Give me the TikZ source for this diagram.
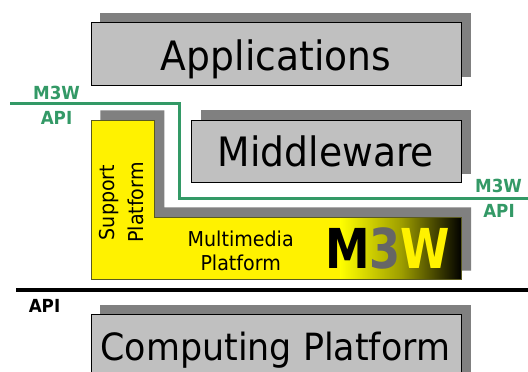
\documentclass[tikz,border=0pt]{standalone}
\usepackage{fontspec}
\setmainfont{DejaVu Sans}[FakeStretch=0.93]
\definecolor{boxgray}{HTML}{C0C0C0}
\definecolor{shadowgray}{HTML}{808080}
\definecolor{apigreen}{HTML}{339966}
\definecolor{m3gray}{HTML}{666666}
\definecolor{lborder}{HTML}{5A5A20}
\begin{document}
\begin{tikzpicture}[x=1pt,y=-1pt,
  boxfill/.style={fill=boxgray, draw=black, line width=0.8pt},
  shadowfill/.style={fill=shadowgray},
  bigtext/.style={anchor=base, inner sep=0pt, font=\fontsize{40.5}{48}\selectfont},
  midtext/.style={anchor=base, inner sep=0pt, font=\fontsize{20.5}{24}\selectfont},
  apilabel/.style={anchor=base, inner sep=0pt, font=\fontsize{18}{21}\selectfont\bfseries},
  apiline/.style={draw=apigreen, line width=3pt}]
\useasboundingbox (0,0) rectangle (528,372);
\clip (0,0) rectangle (528,372);
% Applications
\fill[shadowfill] (100.3,13.3) rectangle (471,76.7);
\draw[boxfill] (91,22.7) rectangle (461.7,85.3);
\node[bigtext] (apps) at (276,70) {Applications};
% Middleware
\fill[shadowfill] (201,110.3) rectangle (471,173.7);
\draw[boxfill] (191.7,120.7) rectangle (461.7,182.3);
\node[bigtext] (mw) at (326,166.7) {Middleware};
% L-shaped platform
\fill[shadowfill] (100.3,110.3) -- (164.3,110.3) -- (164.3,207.3) -- (471,207.3) -- (471,270.7) -- (100.3,270.7) -- cycle;
\fill[yellow] (91,120.3) -- (154.3,120.3) -- (154.3,217.3) -- (461.7,217.3) -- (461.7,279.3) -- (91,279.3) -- cycle;
\shade[left color=yellow, right color=black, middle color=yellow!62!black] (340,217.3) rectangle (461.7,279.3);
\draw[lborder, line width=0.8pt] (91,120.3) -- (154.3,120.3) -- (154.3,217.3) -- (461.7,217.3) -- (461.7,279.3) -- (91,279.3) -- cycle;
\node[midtext, rotate=90] (sup1) at (114.3,202.5) {Support};
\node[midtext, rotate=90] (sup2) at (143.3,202.5) {Platform};
\node[midtext] (mm1) at (240.7,246) {Multimedia};
\node[midtext] (mm2) at (240.7,270.7) {Platform};
\node[anchor=base west, inner sep=0pt, font=\fontsize{55}{60}\selectfont\bfseries] (m3w) at (325,268.3)
  {\scalebox{0.875}[1]{\textcolor{black}{M}\textcolor{m3gray}{3}\textcolor{yellow}{W}}};
% Computing platform
\fill[shadowfill] (100.3,305) rectangle (471,380);
\draw[boxfill] (91,314.3) rectangle (461.7,385);
\node[anchor=base, inner sep=0pt, font=\fontsize{37.5}{44}\selectfont] (cp) at (275.3,360) {Computing Platform};
% Black API line
\coordinate (bl1) at (16,290);
\coordinate (bl2) at (528,290);
\draw[line width=3.3pt] (bl1) -- (bl2);
\node[apilabel] (api0) at (44.5,312) {API};
% Green API line
\coordinate (g1) at (10,103.7);
\coordinate (g2) at (179,103.7);
\coordinate (g3) at (179,198.7);
\coordinate (g4) at (528,198.7);
\draw[apiline] (g1) -- (g2) -- (g3) -- (g4);
\node[apilabel, text=apigreen] (lm3w) at (56.5,99.3) {M3W};
\node[apilabel, text=apigreen] (lapi) at (56.5,124.3) {API};
\node[apilabel, text=apigreen] (rm3w) at (498.5,192.3) {M3W};
\node[apilabel, text=apigreen] (rapi) at (499,217.3) {API};
\end{tikzpicture}
\end{document}
